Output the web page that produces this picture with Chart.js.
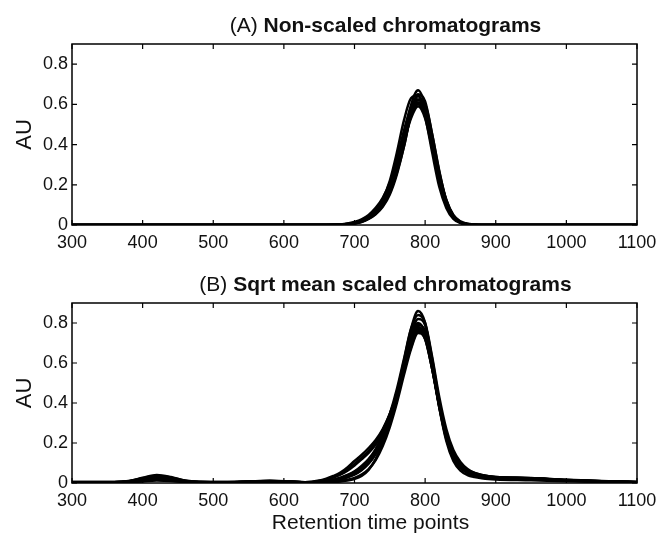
<!DOCTYPE html>
<html lang="en">
<head>
<meta charset="UTF-8">
<title>Chromatograms</title>
<style>
  body { margin: 0; background: #fff; }
  .wrap { position: relative; width: 661px; height: 534px; }
  canvas { position: absolute; left: 0; }
</style>
</head>
<body>
<div class="wrap">
  <canvas id="chartA" width="661" height="260" style="top:0"></canvas>
  <canvas id="chartB" width="661" height="274" style="top:260px"></canvas>
</div>
<script src="https://cdn.jsdelivr.net/npm/chart.js"></script>
<script>
// retention time points where each trace is sampled
const timesA = [300, 660, 680, 690, 700, 710, 720, 730, 740, 750, 760, 770, 780, 790, 800, 810, 820, 830, 840, 850, 860, 870, 880, 900, 1100]
const timesB = [300, 360, 380, 400, 420, 440, 460, 480, 520, 550, 580, 610, 630, 650, 660, 670, 680, 690, 700, 710, 720, 730, 740, 750, 760, 770, 780, 790, 800, 810, 820, 830, 840, 850, 860, 870, 880, 890, 900, 950, 1000, 1050, 1080, 1100]

// (A) raw traces
const rawA1 = [0, 0, 0.001, 0.004, 0.009, 0.019, 0.037, 0.064, 0.107, 0.181, 0.295, 0.442, 0.596, 0.67, 0.596, 0.422, 0.241, 0.107, 0.040, 0.013, 0.004, 0.001, 0, 0, 0]
const rawA2 = [0, 0, 0.002, 0.005, 0.012, 0.024, 0.045, 0.078, 0.13, 0.22, 0.36, 0.52, 0.63, 0.645, 0.54, 0.36, 0.19, 0.085, 0.03, 0.01, 0.003, 0.001, 0, 0, 0]
const rawA3 = [0, 0, 0.001, 0.003, 0.008, 0.016, 0.032, 0.056, 0.095, 0.16, 0.26, 0.39, 0.55, 0.62, 0.6, 0.45, 0.27, 0.12, 0.045, 0.015, 0.005, 0.001, 0, 0, 0]
const rawA4 = [0, 0, 0.002, 0.005, 0.011, 0.022, 0.042, 0.07, 0.115, 0.19, 0.31, 0.45, 0.56, 0.61, 0.55, 0.39, 0.22, 0.1, 0.037, 0.012, 0.004, 0.001, 0, 0, 0]
const rawA5 = [0, 0, 0.001, 0.004, 0.009, 0.018, 0.035, 0.06, 0.1, 0.17, 0.27, 0.41, 0.53, 0.59, 0.53, 0.38, 0.22, 0.1, 0.036, 0.012, 0.004, 0.001, 0, 0, 0]
const rawA6 = [0, 0.001, 0.003, 0.007, 0.015, 0.028, 0.05, 0.085, 0.135, 0.21, 0.32, 0.45, 0.56, 0.6, 0.55, 0.41, 0.25, 0.125, 0.05, 0.018, 0.006, 0.002, 0, 0, 0]
const rawA7 = [0, 0, 0.002, 0.004, 0.010, 0.02, 0.04, 0.068, 0.112, 0.185, 0.3, 0.44, 0.575, 0.64, 0.58, 0.41, 0.23, 0.1, 0.038, 0.012, 0.004, 0.001, 0, 0, 0]
const rawA8 = [0, 0, 0.001, 0.003, 0.007, 0.015, 0.03, 0.053, 0.09, 0.152, 0.252, 0.39, 0.55, 0.65, 0.615, 0.45, 0.265, 0.125, 0.047, 0.015, 0.005, 0.001, 0, 0, 0]
const rawA9 = [0, 0, 0.002, 0.005, 0.012, 0.023, 0.044, 0.074, 0.122, 0.2, 0.325, 0.47, 0.585, 0.625, 0.56, 0.4, 0.225, 0.1, 0.038, 0.012, 0.004, 0.001, 0, 0, 0]
const rawA10 = [0, 0, 0.001, 0.004, 0.009, 0.017, 0.034, 0.058, 0.098, 0.165, 0.27, 0.405, 0.545, 0.605, 0.565, 0.42, 0.25, 0.115, 0.042, 0.014, 0.004, 0.001, 0, 0, 0]

// (B) sqrt mean scaled traces
const sqB1 = [0.004, 0.004, 0.008, 0.022, 0.034, 0.026, 0.01, 0.005, 0.004, 0.006, 0.009, 0.006, 0.003, 0.004, 0.008, 0.015, 0.025, 0.038, 0.055, 0.08, 0.115, 0.165, 0.235, 0.33, 0.45, 0.59, 0.73, 0.80, 0.75, 0.58, 0.38, 0.22, 0.125, 0.075, 0.05, 0.038, 0.03, 0.026, 0.024, 0.02, 0.012, 0.007, 0.005, 0.004]
const sqB2 = [0.003, 0.003, 0.005, 0.012, 0.02, 0.016, 0.007, 0.004, 0.003, 0.004, 0.006, 0.004, 0.002, 0.003, 0.005, 0.01, 0.018, 0.028, 0.042, 0.064, 0.096, 0.145, 0.215, 0.315, 0.45, 0.61, 0.77, 0.86, 0.80, 0.6, 0.38, 0.21, 0.11, 0.062, 0.04, 0.03, 0.024, 0.02, 0.018, 0.014, 0.009, 0.006, 0.004, 0.003]
const sqB3 = [0.005, 0.005, 0.01, 0.026, 0.04, 0.03, 0.012, 0.006, 0.005, 0.008, 0.011, 0.007, 0.003, 0.002, 0.003, 0.005, 0.008, 0.012, 0.02, 0.035, 0.065, 0.12, 0.2, 0.31, 0.45, 0.6, 0.74, 0.82, 0.79, 0.62, 0.41, 0.24, 0.135, 0.08, 0.052, 0.04, 0.032, 0.028, 0.026, 0.022, 0.014, 0.008, 0.006, 0.005]
const sqB4 = [0.004, 0.004, 0.006, 0.014, 0.022, 0.018, 0.008, 0.004, 0.004, 0.005, 0.007, 0.005, 0.004, 0.012, 0.022, 0.035, 0.052, 0.078, 0.11, 0.14, 0.175, 0.215, 0.27, 0.345, 0.44, 0.56, 0.68, 0.76, 0.72, 0.57, 0.39, 0.235, 0.14, 0.088, 0.06, 0.045, 0.036, 0.03, 0.027, 0.022, 0.013, 0.008, 0.006, 0.004]
const sqB5 = [0.005, 0.005, 0.009, 0.024, 0.036, 0.028, 0.011, 0.005, 0.005, 0.007, 0.01, 0.007, 0.004, 0.01, 0.018, 0.03, 0.046, 0.068, 0.095, 0.125, 0.16, 0.205, 0.265, 0.345, 0.45, 0.58, 0.71, 0.78, 0.74, 0.58, 0.39, 0.23, 0.135, 0.083, 0.056, 0.042, 0.034, 0.029, 0.026, 0.021, 0.013, 0.008, 0.006, 0.005]
const sqB6 = [0.003, 0.003, 0.005, 0.01, 0.016, 0.012, 0.006, 0.003, 0.003, 0.005, 0.007, 0.005, 0.002, 0.002, 0.003, 0.006, 0.01, 0.016, 0.026, 0.042, 0.07, 0.115, 0.185, 0.28, 0.4, 0.54, 0.67, 0.75, 0.72, 0.57, 0.39, 0.235, 0.14, 0.09, 0.062, 0.047, 0.038, 0.032, 0.029, 0.024, 0.015, 0.009, 0.006, 0.004]
const sqB7 = [0.004, 0.004, 0.007, 0.018, 0.028, 0.022, 0.009, 0.005, 0.004, 0.007, 0.01, 0.007, 0.003, 0.005, 0.009, 0.016, 0.027, 0.04, 0.058, 0.085, 0.12, 0.17, 0.245, 0.345, 0.47, 0.62, 0.77, 0.84, 0.80, 0.63, 0.43, 0.27, 0.165, 0.105, 0.07, 0.05, 0.04, 0.034, 0.03, 0.025, 0.016, 0.01, 0.007, 0.005]
const sqB8 = [0.003, 0.003, 0.006, 0.015, 0.024, 0.019, 0.008, 0.004, 0.003, 0.005, 0.008, 0.005, 0.003, 0.004, 0.007, 0.013, 0.022, 0.034, 0.05, 0.073, 0.105, 0.152, 0.218, 0.31, 0.425, 0.56, 0.69, 0.77, 0.73, 0.57, 0.38, 0.225, 0.13, 0.08, 0.054, 0.04, 0.032, 0.027, 0.025, 0.02, 0.012, 0.007, 0.005, 0.003]
const sqB9 = [0.002, 0.002, 0.004, 0.008, 0.012, 0.01, 0.005, 0.003, 0.002, 0.004, 0.006, 0.004, 0.002, 0.003, 0.006, 0.011, 0.02, 0.03, 0.045, 0.066, 0.1, 0.148, 0.22, 0.32, 0.44, 0.585, 0.72, 0.79, 0.76, 0.6, 0.4, 0.24, 0.14, 0.085, 0.058, 0.044, 0.036, 0.031, 0.028, 0.023, 0.014, 0.009, 0.006, 0.003]
const sqB10 = [0.004, 0.004, 0.007, 0.016, 0.026, 0.02, 0.008, 0.004, 0.004, 0.006, 0.009, 0.006, 0.003, 0.008, 0.016, 0.027, 0.042, 0.062, 0.088, 0.118, 0.15, 0.192, 0.25, 0.33, 0.44, 0.57, 0.7, 0.77, 0.735, 0.58, 0.395, 0.24, 0.145, 0.094, 0.066, 0.05, 0.04, 0.034, 0.03, 0.024, 0.015, 0.009, 0.006, 0.004]

const xTicks = [300, 400, 500, 600, 700, 800, 900, 1000, 1100]
const yTicks = [0, 0.2, 0.4, 0.6, 0.8]

const FONT = '"Liberation Sans", Arial, Helvetica, sans-serif'

// box around the plot, matlab style inward ticks, titles and axis labels
const panelText = {
    id: 'panelText',
    afterDraw(chart, args, opts) {
        const { ctx, chartArea: { left, right, top, bottom } } = chart
        const xs = chart.scales.x, ys = chart.scales.y
        ctx.save()
        ctx.strokeStyle = '#000'
        ctx.lineWidth = 1.5
        ctx.strokeRect(left, top, right - left, bottom - top)
        ctx.lineWidth = 1.2
        ctx.beginPath()
        xTicks.forEach(v => {
            const px = xs.getPixelForValue(v)
            ctx.moveTo(px, bottom); ctx.lineTo(px, bottom - 5)
            ctx.moveTo(px, top); ctx.lineTo(px, top + 5)
        })
        yTicks.forEach(v => {
            const py = ys.getPixelForValue(v)
            ctx.moveTo(left, py); ctx.lineTo(left + 5, py)
            ctx.moveTo(right, py); ctx.lineTo(right - 5, py)
        })
        ctx.stroke()

        ctx.fillStyle = '#111'
        // title: plain prefix + bold text
        const cx = (left + right) / 2 + 31
        ctx.font = '21px ' + FONT
        const w1 = ctx.measureText(opts.prefix).width
        ctx.font = 'bold 21px ' + FONT
        const w2 = ctx.measureText(opts.title).width
        const x0 = cx - (w1 + w2) / 2
        ctx.textBaseline = 'alphabetic'
        ctx.textAlign = 'left'
        ctx.font = '21px ' + FONT
        ctx.fillText(opts.prefix, x0, opts.titleY)
        ctx.font = 'bold 21px ' + FONT
        ctx.fillText(opts.title, x0 + w1, opts.titleY)

        // y label
        ctx.font = '22px ' + FONT
        ctx.textAlign = 'center'
        ctx.textBaseline = 'middle'
        ctx.translate(25, (top + bottom) / 2)
        ctx.rotate(-Math.PI / 2)
        ctx.fillText('AU', 0, 0)
        ctx.rotate(Math.PI / 2)
        ctx.translate(-25, -(top + bottom) / 2)

        if (opts.xLabel) {
            ctx.font = '21px ' + FONT
            ctx.textBaseline = 'alphabetic'
            ctx.fillText(opts.xLabel, (left + right) / 2 + 16, opts.xLabelY)
        }
        ctx.restore()
    }
}

function makeChart(id, times, series, pad, xHeight, text) {
    return new Chart(document.getElementById(id), {
        type: 'line',
        data: {
            datasets: series.map(s => ({
                data: times.map((t, i) => ({ x: t, y: s[i] })),
                borderColor: '#000',
                borderWidth: 2.5,
                pointRadius: 0,
                cubicInterpolationMode: 'monotone',
                fill: false
            }))
        },
        options: {
            responsive: false,
            animation: false,
            events: [],
            layout: { padding: pad },
            plugins: {
                legend: { display: false },
                tooltip: { enabled: false },
                panelText: text
            },
            scales: {
                x: {
                    type: 'linear', min: 300, max: 1100,
                    afterFit(scale) {
                        scale.height = xHeight
                        scale.paddingRight = 0
                        scale.paddingLeft = 0
                    },
                    afterBuildTicks(scale) { scale.ticks = xTicks.map(v => ({ value: v })) },
                    grid: { display: false, drawTicks: false },
                    border: { display: false },
                    ticks: {
                        padding: 7, color: '#111', font: { family: FONT, size: 18 }, maxRotation: 0,
                        callback: v => String(v)
                    }
                },
                y: {
                    min: 0, max: 0.9,
                    afterFit(scale) { scale.width = 72 },
                    afterBuildTicks(scale) { scale.ticks = yTicks.map(v => ({ value: v })) },
                    grid: { display: false, drawTicks: false },
                    border: { display: false },
                    ticks: {
                        padding: 4, color: '#111', font: { family: FONT, size: 18 },
                        callback: v => String(+v.toFixed(1))
                    }
                }
            }
        },
        plugins: [panelText]
    })
}

makeChart('chartA', timesA,
    [rawA1, rawA2, rawA3, rawA4, rawA5, rawA6, rawA7, rawA8, rawA9, rawA10],
    { left: 0, right: 24, top: 44, bottom: 0 }, 35,
    { prefix: '(A) ', title: 'Non-scaled chromatograms', titleY: 32 })

makeChart('chartB', timesB,
    [sqB1, sqB2, sqB3, sqB4, sqB5, sqB6, sqB7, sqB8, sqB9, sqB10],
    { left: 0, right: 24, top: 43, bottom: 0 }, 51,
    { prefix: '(B) ', title: 'Sqrt mean scaled chromatograms', titleY: 31,
      xLabel: 'Retention time points', xLabelY: 269 })
</script>
</body>
</html>
